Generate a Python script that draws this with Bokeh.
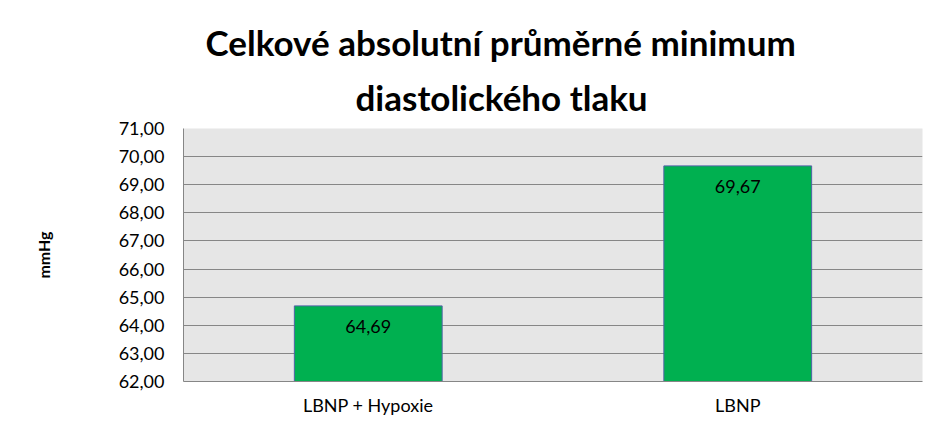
from bokeh.plotting import figure
from bokeh.models import Range1d, CustomJSTickFormatter, Title, ColumnDataSource, FixedTicker
from bokeh.core.properties import value
from bokeh.embed import file_html
from bokeh.resources import INLINE

# data
groups = ["LBNP + Hypoxie", "LBNP"]
minimum = [64.69, 69.67]
y_ticks = [62, 63, 64, 65, 66, 67, 68, 69, 70, 71]

labels = [("%.2f" % v).replace(".", ",") for v in minimum]
src = ColumnDataSource(dict(g=groups, v=minimum, lab=labels))

p = figure(x_range=groups, y_range=Range1d(62, 71), width=933, height=418,
           output_backend="svg", toolbar_location=None, tools="",
           min_border_left=183, min_border_right=11,
           min_border_top=128, min_border_bottom=36)
p.x_range.range_padding = 0

p.background_fill_color = "#e6e6e6"
p.outline_line_color = None

# bars, bottom at the start of the axis
p.vbar(x="g", top="v", bottom=62, width=0.4, source=src,
       fill_color="#00b050", line_color="#4f62a5", line_width=1)

# values inside the bars, near the top
p.text(x="g", y="v", text="lab", source=src, text_align="center",
       text_baseline="middle", y_offset=21, text_font=value("Lato"),
       text_font_size="18px", text_color="black")

# title, two lines (the last one added sits on top)
p.add_layout(Title(text="diastolického tlaku", align="left", offset=172,
                   text_font="Lato", text_font_size="35px", text_font_style="bold",
                   text_color="black", standoff=22), "above")
p.add_layout(Title(text="Celkové absolutní průměrné minimum", align="left", offset=22,
                   text_font="Lato", text_font_size="35px", text_font_style="bold",
                   text_color="black", standoff=0), "above")

p.xgrid.grid_line_color = None
p.ygrid.grid_line_color = "#868686"
p.ygrid.grid_line_width = 1

p.yaxis.ticker = FixedTicker(ticks=y_ticks)
p.yaxis.formatter = CustomJSTickFormatter(code="return tick.toFixed(2).replace('.', ',');")
p.yaxis.axis_label = "mmHg"
p.yaxis.axis_label_text_font = "Lato"
p.yaxis.axis_label_text_font_size = "16px"
p.yaxis.axis_label_text_font_style = "bold"
p.yaxis.axis_label_text_color = "black"
p.yaxis.axis_label_standoff = 63
p.yaxis.major_label_standoff = 19

for ax in (p.xaxis, p.yaxis):
    ax.axis_line_color = "#868686"
    ax.major_tick_line_color = None
    ax.minor_tick_line_color = None
    ax.major_tick_out = 0
    ax.major_tick_in = 0
    ax.major_label_text_font = "Lato"
    ax.major_label_text_font_size = "18px"
    ax.major_label_text_color = "black"
p.xaxis.major_label_standoff = 12

open("out.html", "w").write(file_html(p, INLINE))
